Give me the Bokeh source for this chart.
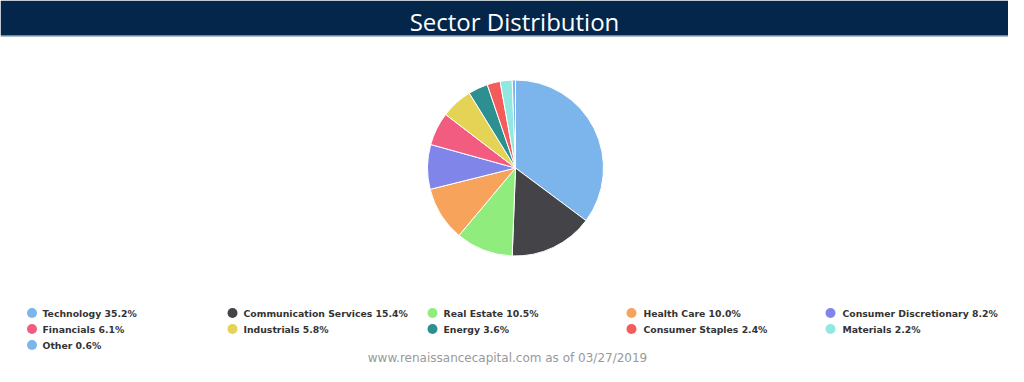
import numpy as np
from bokeh.plotting import figure
from bokeh.models import Range1d, ColumnDataSource
from bokeh.core.properties import value
from bokeh.embed import file_html
from bokeh.resources import INLINE

# ---- data ----
sectors = ["Technology", "Communication Services", "Real Estate", "Health Care",
           "Consumer Discretionary", "Financials", "Industrials", "Energy",
           "Consumer Staples", "Materials", "Other"]
shares = [35.2, 15.4, 10.5, 10.0, 8.2, 6.1, 5.8, 3.6, 2.4, 2.2, 0.6]
colors = ["#7cb5ec", "#434348", "#90ed7d", "#f7a35c", "#8085e9", "#f15c80",
          "#e4d354", "#2b908f", "#f45b5b", "#91e8e1", "#7cb5ec"]
title_text = "Sector Distribution"
footer_text = "www.renaissancecapital.com as of 03/27/2019"

W, H = 1008, 366
p = figure(width=W, height=H, output_backend="svg", toolbar_location=None,
           x_range=Range1d(0, W), y_range=Range1d(0, H),
           min_border=0, outline_line_color=None)
p.axis.visible = False
p.grid.visible = False
p.background_fill_color = "white"
p.border_fill_color = "white"

def Y(py):  # picture pixel y (from top) -> data y
    return H - py

# header band
p.quad(left=[0], right=[W], bottom=[Y(35)], top=[Y(0)], fill_color="#03264a", line_color=None)
p.segment(x0=[0], x1=[W], y0=[Y(35.5)], y1=[Y(35.5)], line_color="#5d7c96", line_width=1)
p.text(x=[514], y=[Y(21)], text=[title_text], text_align="center", text_baseline="alphabetic",
       text_color="white", text_font=value("Open Sans"), text_font_size="24px")

# pie
total = sum(shares)
fr = np.array(shares) / total
ends = np.cumsum(fr) * 2 * np.pi
starts = np.concatenate([[0], ends[:-1]])
src = ColumnDataSource(dict(start=np.pi / 2 - starts, end=np.pi / 2 - ends, color=colors))
p.wedge(x=515, y=Y(167.5), radius=88, start_angle="start", end_angle="end",
        direction="clock", fill_color="color", line_color="white", line_width=1, source=src)

# legend
col_marker = [31.5, 232, 432, 631, 830]
col_text = [42, 243, 443, 643, 842]
row_y = [312.5, 328.5, 344.5]
mx, my, tx, ty, labels, mcol = [], [], [], [], [], []
for i, (s, v, c) in enumerate(zip(sectors, shares, colors)):
    r, k = divmod(i, 5)
    mx.append(col_marker[k]); my.append(Y(row_y[r]))
    tx.append(col_text[k]); ty.append(Y(row_y[r]))
    labels.append(f"{s} {v:.1f}%"); mcol.append(c)
p.scatter(x=mx, y=my, size=10, fill_color=mcol, line_color=None)
p.text(x=tx, y=ty, text=labels, text_baseline="middle", text_align="left",
       text_color="#333333", text_font=value("DejaVu Sans"), text_font_style="bold",
       text_font_size="9.3px")

# footer
p.text(x=[507], y=[Y(357)], text=[footer_text], text_align="center", text_baseline="middle",
       text_color="#999999", text_font=value("DejaVu Sans"), text_font_size="12px")

open("out.html", "w").write(file_html(p, INLINE))
